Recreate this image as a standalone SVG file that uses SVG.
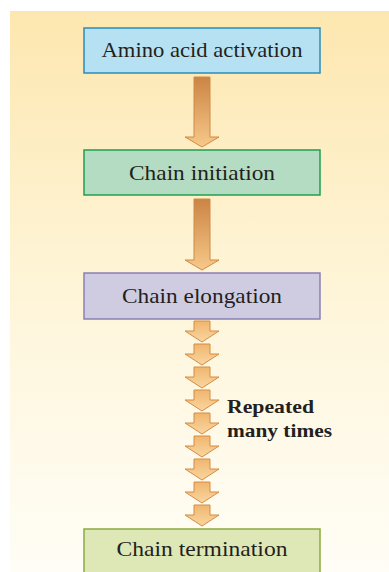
<svg xmlns="http://www.w3.org/2000/svg" width="389" height="572" viewBox="0 0 389 572">
<defs>
<linearGradient id="bg" x1="0" y1="0" x2="0" y2="1">
<stop offset="0" stop-color="#fde7b0"/>
<stop offset="0.55" stop-color="#fef6dc"/>
<stop offset="1" stop-color="#fffdf6"/>
</linearGradient>
<linearGradient id="big" x1="0" y1="0" x2="0" y2="1">
<stop offset="0" stop-color="#cb8444"/>
<stop offset="1" stop-color="#f7c98a"/>
</linearGradient>
<linearGradient id="small" x1="0" y1="0" x2="0" y2="1">
<stop offset="0" stop-color="#f0b66e"/>
<stop offset="1" stop-color="#f9d6a0"/>
</linearGradient>
<path id="sa" d="M-8,0 H8 V10 H17 L0,21 L-17,10 H-8 Z"/>
</defs>
<style>
.box{stroke-width:1.5}
.lbl{font-family:"Liberation Serif","DejaVu Serif",serif;font-size:21px;fill:#231f20;text-anchor:middle}
.note{font-family:"Liberation Serif","DejaVu Serif",serif;font-size:19.5px;font-weight:bold;fill:#231f20}
.big{fill:url(#big);stroke:#d08a45;stroke-width:1}
.sm{fill:url(#small);stroke:#d58c45;stroke-width:1}
</style>
<rect x="10" y="11" width="379" height="561" fill="url(#bg)"/>
<g id="connectors">
<path class="big" d="M194,77 H210 V137 H219 L202,147 L185,137 H194 Z"/>
<path class="big" d="M194,199 H210 V260 H219 L202,270 L185,260 H194 Z"/>
<g class="sm">
<use href="#sa" x="202" y="321"/>
<use href="#sa" x="202" y="344"/>
<use href="#sa" x="202" y="367"/>
<use href="#sa" x="202" y="390"/>
<use href="#sa" x="202" y="413"/>
<use href="#sa" x="202" y="436"/>
<use href="#sa" x="202" y="459"/>
<use href="#sa" x="202" y="482"/>
<use href="#sa" x="202" y="505"/>
</g>
</g>
<g id="n1">
<rect class="box" x="84" y="28" width="236" height="45" fill="#b6e1f2" stroke="#2b8cb9"/>
<text class="lbl" x="202" y="57" textLength="201" lengthAdjust="spacingAndGlyphs">Amino acid activation</text>
</g>
<g id="n2">
<rect class="box" x="84" y="150" width="236" height="45" fill="#b4dcc2" stroke="#1fa050"/>
<text class="lbl" x="202" y="180" textLength="146" lengthAdjust="spacingAndGlyphs">Chain initiation</text>
</g>
<g id="n3">
<rect class="box" x="84" y="273" width="236" height="46" fill="#cfcce1" stroke="#8a80b3"/>
<text class="lbl" x="202" y="303" textLength="160" lengthAdjust="spacingAndGlyphs">Chain elongation</text>
</g>
<g id="n4">
<rect class="box" x="84" y="529" width="236" height="50" fill="#dee8b7" stroke="#8aab3f"/>
<text class="lbl" x="202" y="556" textLength="171" lengthAdjust="spacingAndGlyphs">Chain termination</text>
</g>
<g id="note">
<text class="note" x="227" y="413" textLength="87" lengthAdjust="spacingAndGlyphs">Repeated</text>
<text class="note" x="227" y="437" textLength="105" lengthAdjust="spacingAndGlyphs">many times</text>
</g>
</svg>
